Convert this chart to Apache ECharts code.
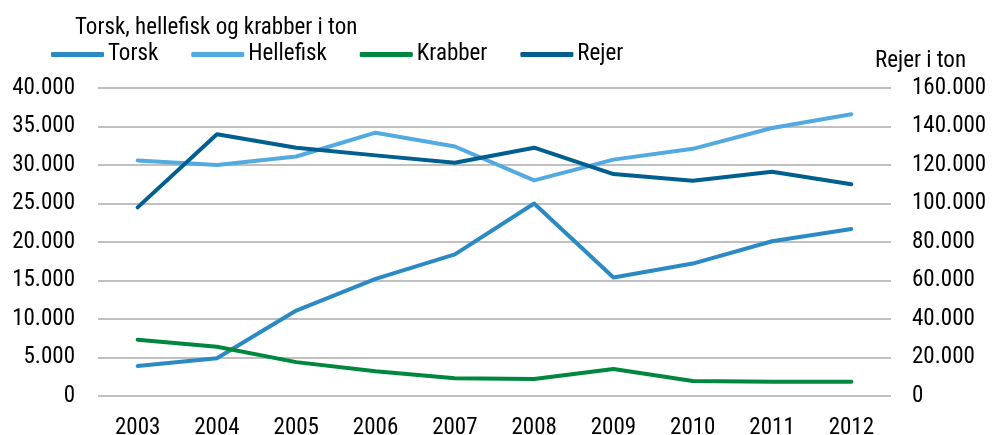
<!DOCTYPE html>
<html>
<head>
<meta charset="utf-8">
<style>
  html, body { margin: 0; padding: 0; background: #fff; }
  #chart { width: 992px; height: 435px; }
</style>
<script src="https://cdn.jsdelivr.net/npm/echarts@6/dist/echarts.min.js"></script>
</head>
<body>
<div id="chart"></div>
<script>
// Fiskeri i ton, 2003-2012
const years = ['2003', '2004', '2005', '2006', '2007', '2008', '2009', '2010', '2011', '2012'];
const torsk     = [3900, 4900, 11100, 15200, 18400, 25000, 15400, 17200, 20100, 21700];
const hellefisk = [30600, 30000, 31100, 34200, 32400, 28000, 30700, 32100, 34800, 36600];
const krabber   = [7300, 6400, 4400, 3200, 2300, 2200, 3500, 1950, 1850, 1850];
const rejer     = [98000, 136000, 129000, 125000, 121200, 129000, 115300, 111800, 116500, 110000];

const COLORS = {
  torsk: '#2b8ac3',
  hellefisk: '#52aae0',
  krabber: '#00873e',
  rejer: '#005f8e',
  grid: '#c0c0c0',
  text: '#000',
};
const FONT = '"Roboto Condensed", "DejaVu Sans Condensed", sans-serif';
const FS = 23;

// 40000 -> "40.000"
const fmt = (v) => String(v).replace(/\B(?=(\d{3})+(?!\d))/g, '.');

const chart = echarts.init(document.getElementById('chart'), null, { renderer: 'canvas' });

function line(name, data, color, axis) {
  return {
    name, type: 'line', data,
    yAxisIndex: axis,
    symbol: 'none',
    lineStyle: { color, width: 4, cap: 'round', join: 'round' },
    itemStyle: { color },
  };
}

const txt = { fontFamily: FONT, fontSize: FS, fontWeight: 'normal', color: COLORS.text };

chart.setOption({
  backgroundColor: '#fff',
  animation: false,
  textStyle: { fontFamily: FONT, color: COLORS.text },
  title: [
    { text: 'Torsk, hellefisk og krabber i ton', left: 70, top: 12, textStyle: txt },
    { text: 'Rejer i ton', left: 870, top: 45, textStyle: txt },
  ],
  legend: {
    left: 46, top: 38,
    itemWidth: 53, itemHeight: 5, itemGap: 33,
    icon: 'roundRect',
    textStyle: Object.assign({}, txt, { padding: [0, 0, 0, -1] }),
    data: ['Torsk', 'Hellefisk', 'Krabber', 'Rejer'],
  },
  grid: { left: 98, right: 101, top: 88, bottom: 39, containLabel: false, outerBoundsMode: 'none' },
  xAxis: {
    type: 'category',
    data: years,
    boundaryGap: true,
    axisLine: { show: false },
    axisTick: { show: false },
    axisLabel: Object.assign({}, txt, { margin: 21 }),
  },
  yAxis: [
    {
      type: 'value', min: 0, max: 40000, interval: 5000,
      axisLine: { show: false }, axisTick: { show: false },
      axisLabel: Object.assign({}, txt, { margin: 23, formatter: fmt }),
      splitLine: { lineStyle: { color: COLORS.grid, width: 2 } },
    },
    {
      type: 'value', min: 0, max: 160000, interval: 20000,
      axisLine: { show: false }, axisTick: { show: false },
      axisLabel: Object.assign({}, txt, { margin: 21, formatter: fmt }),
      splitLine: { show: false },
    },
  ],
  series: [
    line('Torsk', torsk, COLORS.torsk, 0),
    line('Hellefisk', hellefisk, COLORS.hellefisk, 0),
    line('Krabber', krabber, COLORS.krabber, 0),
    line('Rejer', rejer, COLORS.rejer, 1),
  ],
});
</script>
</body>
</html>
